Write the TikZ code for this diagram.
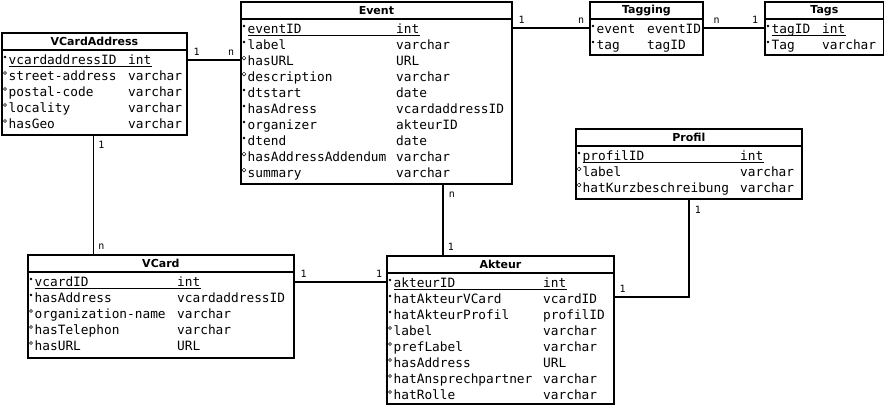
\documentclass[tikz,border=0pt]{standalone}
\usepackage{fontspec}
\setmainfont{DejaVu Sans}
\setmonofont{DejaVu Sans Mono}
\usetikzlibrary{shapes.geometric,calc}
\tikzset{
 ebox/.style={draw, line width=1.8pt, rectangle, inner sep=0pt, anchor=north west},
 etitle/.style={font=\fontsize{11}{11}\selectfont\bfseries, inner sep=0pt},
 rtext/.style={font=\fontsize{12.8}{13}\selectfont\ttfamily, inner sep=0pt, anchor=base west},
 bulf/.style={circle, fill, inner sep=0pt, minimum size=2.8pt},
 bulo/.style={circle, draw, line width=0.5pt, inner sep=0pt, minimum size=3pt},
 buld/.style={diamond, draw, line width=0.5pt, inner sep=0pt, minimum size=4pt},
 conn/.style={line width=1.8pt},
 card/.style={font=\fontsize{10}{10}\selectfont\ttfamily, inner sep=0pt},
 keyline/.style={line width=0.9pt}
}
\newcommand\ent[6]{%
 \node[ebox, minimum width=#4pt, minimum height=#5pt] (#1) at (#2pt,-#3pt) {};
 \draw[line width=1.8pt] ([yshift=-18pt]#1.north west) -- ([yshift=-18pt]#1.north east);
 \node[etitle] (#1-title) at ([yshift=-9.5pt]#1.north) {#6};
}
\newcommand\erow[6]{%
 \node[#3] (#1-b#2) at ([xshift=4pt,yshift={-(9+16*#2)*1pt}]#1.north west) {};
 \node[rtext] (#1-n#2) at ([xshift=7.5pt,yshift={-(16+16*#2)*1pt}]#1.north west) {#4};
 \node[rtext] (#1-t#2) at ([xshift=#5pt,yshift={-(16+16*#2)*1pt}]#1.north west) {#6};
}
\newcommand\ekey[2]{%
 \draw[keyline] ([yshift=-2pt]#1-n#2.base west) -- ([yshift=-2pt]#1-t#2.base east);
}
\begin{document}
\begin{tikzpicture}
\useasboundingbox (0,0) rectangle (884pt,-405pt);
% VCardAddress
\ent{vca}{1}{32}{185}{102}{VCardAddress}
\erow{vca}{1}{bulf}{vcardaddressID}{127}{int}\ekey{vca}{1}
\erow{vca}{2}{bulo}{street-address}{127}{varchar}
\erow{vca}{3}{bulo}{postal-code}{127}{varchar}
\erow{vca}{4}{bulo}{locality}{127}{varchar}
\erow{vca}{5}{bulo}{hasGeo}{127}{varchar}
% Event
\ent{ev}{240}{1}{271}{182}{Event}
\erow{ev}{1}{bulf}{eventID}{156}{int}\ekey{ev}{1}
\erow{ev}{2}{bulf}{label}{156}{varchar}
\erow{ev}{3}{buld}{hasURL}{156}{URL}
\erow{ev}{4}{buld}{description}{156}{varchar}
\erow{ev}{5}{bulf}{dtstart}{156}{date}
\erow{ev}{6}{bulf}{hasAdress}{156}{vcardaddressID}
\erow{ev}{7}{bulf}{organizer}{156}{akteurID}
\erow{ev}{8}{bulf}{dtend}{156}{date}
\erow{ev}{9}{buld}{hasAddressAddendum}{156}{varchar}
\erow{ev}{10}{buld}{summary}{156}{varchar}
% Tagging
\ent{tg}{589}{1}{113}{53}{Tagging}
\erow{tg}{1}{bulf}{event}{58}{eventID}
\erow{tg}{2}{bulf}{tag}{58}{tagID}
% Tags
\ent{tgs}{764}{1}{119}{53}{Tags}
\erow{tgs}{1}{bulf}{tagID}{58}{int}\ekey{tgs}{1}
\erow{tgs}{2}{bulf}{Tag}{58}{varchar}
% Profil
\ent{pr}{575}{128}{226}{70}{Profil}
\erow{pr}{1}{bulf}{profilID}{165}{int}\ekey{pr}{1}
\erow{pr}{2}{buld}{label}{165}{varchar}
\erow{pr}{3}{buld}{hatKurzbeschreibung}{165}{varchar}
% VCard
\ent{vc}{27}{254}{266}{103}{VCard}
\erow{vc}{1}{bulf}{vcardID}{150}{int}\ekey{vc}{1}
\erow{vc}{2}{bulf}{hasAddress}{150}{vcardaddressID}
\erow{vc}{3}{bulo}{organization-name}{150}{varchar}
\erow{vc}{4}{bulo}{hasTelephon}{150}{varchar}
\erow{vc}{5}{bulo}{hasURL}{150}{URL}
% Akteur
\ent{ak}{386}{255}{227}{148}{Akteur}
\erow{ak}{1}{bulf}{akteurID}{157}{int}\ekey{ak}{1}
\erow{ak}{2}{bulf}{hatAkteurVCard}{157}{vcardID}
\erow{ak}{3}{bulf}{hatAkteurProfil}{157}{profilID}
\erow{ak}{4}{bulo}{label}{157}{varchar}
\erow{ak}{5}{bulo}{prefLabel}{157}{varchar}
\erow{ak}{6}{bulo}{hasAddress}{157}{URL}
\erow{ak}{7}{bulo}{hatAnsprechpartner}{157}{varchar}
\erow{ak}{8}{bulo}{hatRolle}{157}{varchar}
% connectors
\draw[conn] ([yshift=-28pt]vca.north east) -- ([yshift=-28pt]vca.north east -| ev.west)
  node[card, pos=0, anchor=south west, shift={(5pt,4pt)}] (c1a) {1}
  node[card, pos=1, anchor=south east, shift={(-5pt,4pt)}] (c1b) {n};
\draw[conn] ([yshift=-27pt]ev.north east) -- ([yshift=-27pt]ev.north east -| tg.west)
  node[card, pos=0, anchor=south west, shift={(5pt,4pt)}] (c2a) {1}
  node[card, pos=1, anchor=south east, shift={(-4pt,4pt)}] (c2b) {n};
\draw[conn] ([yshift=-27pt]tg.north east) -- ([yshift=-27pt]tg.north east -| tgs.west)
  node[card, pos=0, anchor=south west, shift={(9pt,4pt)}] (c3a) {n}
  node[card, pos=1, anchor=south east, shift={(-5pt,4pt)}] (c3b) {1};
\draw[conn] ([xshift=-1pt]vca.south) -- ([xshift=-1pt]vca.south |- vc.north)
  node[card, pos=0, anchor=north west, shift={(4pt,-5pt)}] (c4a) {1}
  node[card, pos=1, anchor=south west, shift={(4pt,4pt)}] (c4b) {n};
\draw[conn] ([xshift=203pt]ev.south west) -- ([xshift=203pt]ev.south west |- ak.north)
  node[card, pos=0, anchor=north west, shift={(5pt,-6pt)}] (c5a) {n}
  node[card, pos=1, anchor=south west, shift={(4pt,4pt)}] (c5b) {1};
\draw[conn] ([yshift=-28pt]vc.north east) -- ([yshift=-28pt]vc.north east -| ak.west)
  node[card, pos=0, anchor=south west, shift={(5pt,4pt)}] (c6a) {1}
  node[card, pos=1, anchor=south east, shift={(-3pt,4pt)}] (c6b) {1};
\draw[conn] (pr.south) |- ([yshift=-42pt]ak.north east)
  node[card, pos=0, anchor=north west, shift={(5pt,-6pt)}] (c7a) {1}
  node[card, pos=1, anchor=south west, shift={(4pt,4pt)}] (c7b) {1};
\end{tikzpicture}
\end{document}
